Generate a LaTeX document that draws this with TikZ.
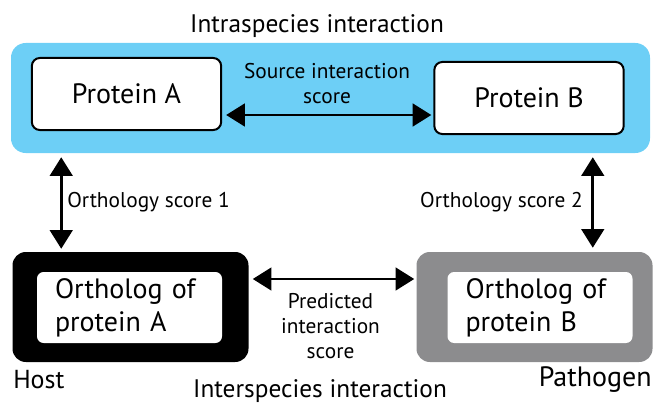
\documentclass[tikz,border=0pt]{standalone}
\usepackage{fontspec}
\setmainfont{PT Sans}
\usetikzlibrary{arrows.meta, positioning, calc}
\definecolor{mblue}{HTML}{6DCFF6}
\definecolor{mgray}{HTML}{8C8C8E}
\tikzstyle{panel} = [rectangle, rounded corners=11pt, fill=mblue, minimum width=479.25pt, minimum height=82.5pt]
\tikzstyle{protein} = [rectangle, rounded corners=6pt, draw, line width=1.5pt, fill=white, minimum width=142pt, minimum height=54pt, font=\fontsize{21}{24}\selectfont]
\tikzstyle{species} = [rectangle, rounded corners=10pt, minimum width=177pt, minimum height=82.5pt]
\tikzstyle{ortholog} = [rectangle, rounded corners=5pt, fill=white, align=left, text width=111.75pt, inner xsep=13.5pt, minimum height=53.25pt, font=\fontsize{21}{24.75}\selectfont]
\tikzstyle{score} = [align=center, inner sep=0pt, font=\fontsize{16}{18.75}\selectfont]
\tikzstyle{caption} = [inner sep=0pt, font=\fontsize{19}{22}\selectfont]
\tikzstyle{link} = [line width=2pt, {Triangle[length=14pt,width=17pt]}-{Triangle[length=14pt,width=17pt]}]

\begin{document}
\begin{tikzpicture}[x=0.75pt, y=-0.75pt]
  \useasboundingbox (0,0) rectangle (653,403);
  % intraspecies panel
  \node (intra) [panel] at (330.5,98) {};
  \node (protA) [protein] at (126.5,94) {Protein A};
  \node (protB) [protein] at (529,98) {Protein B};
  \node (intratitle) [caption, anchor=base] at (317,33) {Intraspecies interaction};
  \node (src) [score] at (327,83.5) {Source interaction\\score};
  \draw [link] ($(protA.east)+(4,21)$) -- ($(protB.west |- protA.east)+(-2,21)$);
  % host and pathogen
  \node (hostbox) [species, fill=black] at (130.5,307) {};
  \node (orthA) [ortholog] at (129.5,307.5) {Ortholog of\\protein A};
  \node (pathbox) [species, fill=mgray] at (534.5,307) {};
  \node (orthB) [ortholog] at (540,307.5) {Ortholog of\\protein B};
  \node (host) [caption, anchor=base west, font=\fontsize{19.5}{22}\selectfont] at (13,388) {Host};
  \node (pathogen) [caption, anchor=base east, font=\fontsize{21}{24}\selectfont] at (652,386) {Pathogen};
  \node (intertitle) [caption, anchor=base] at (320,397) {Interspecies interaction};
  \node (pred) [score] at (330.5,326) {Predicted\\interaction\\score};
  \draw [link] ($(hostbox.east)+(4,-28)$) -- ($(pathbox.west)+(-2,-28)$);
  % orthology
  \node (orth1) [score, anchor=base west] at (67,207) {Orthology score 1};
  \node (orth2) [score, anchor=base east] at (583,207) {Orthology score 2};
  \draw [link] ($(hostbox.north west |- intra.south)+(49,4)$) -- ($(hostbox.north west)+(49,-3)$);
  \draw [link] ($(pathbox.north east |- intra.south)+(-60,4)$) -- ($(pathbox.north east)+(-60,-4)$);
\end{tikzpicture}
\end{document}
